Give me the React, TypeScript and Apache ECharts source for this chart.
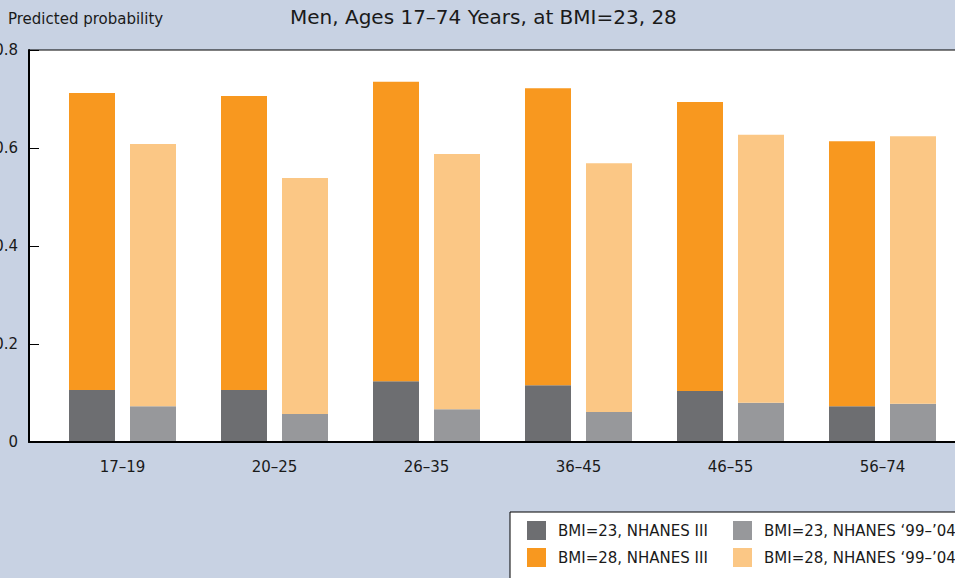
import React, { useEffect, useRef } from 'react';
import * as echarts from 'echarts';

const categories = ['17–19', '20–25', '26–35', '36–45', '46–55', '56–74'];
const bmi23NhanesIII = [0.106, 0.106, 0.124, 0.116, 0.104, 0.073];
const bmi28NhanesIII = [0.712, 0.706, 0.735, 0.722, 0.694, 0.614];
const bmi23Nhanes9904 = [0.073, 0.057, 0.067, 0.061, 0.08, 0.078];
const bmi28Nhanes9904 = [0.608, 0.539, 0.588, 0.569, 0.627, 0.624];

const NAME_23_III = 'BMI=23, NHANES III';
const NAME_28_III = 'BMI=28, NHANES III';
const NAME_23_9904 = 'BMI=23, NHANES ‘99–’04';
const NAME_28_9904 = 'BMI=28, NHANES ‘99–’04';

const FONT = 'DejaVu Sans';
const TEXT = '#1a1a1a';

const diff = (top: number[], base: number[]) =>
  top.map((v, i) => Math.round((v - base[i]) * 1000) / 1000);

export default function App() {
  const ref = useRef<HTMLDivElement>(null);
  useEffect(() => {
    if (!ref.current) return;
    const chart = echarts.init(ref.current, undefined, { renderer: 'svg' });
    const barCommon = { type: 'bar', xAxisIndex: 1, yAxisIndex: 1, barWidth: 46, barGap: '32.6%' };
    chart.setOption({
      animation: false,
      backgroundColor: '#c8d2e3',
      textStyle: { fontFamily: FONT },
      title: [
        {
          text: 'Men, Ages 17–74 Years, at BMI=23, 28',
          left: 290,
          top: 7,
          padding: 0,
          textStyle: { fontFamily: FONT, fontSize: 20, fontWeight: 'normal', color: TEXT },
        },
        {
          text: 'Predicted probability',
          left: 8,
          top: 11,
          padding: 0,
          textStyle: { fontFamily: FONT, fontSize: 15, fontWeight: 'normal', color: TEXT },
        },
      ],
      grid: [
        {
          left: 29, right: -10, top: 50, bottom: 136, outerBoundsMode: 'none', containLabel: false,
          show: true, backgroundColor: '#ffffff', borderColor: '#000', borderWidth: 1,
        },
        { left: 46.5, width: 912, top: 50, bottom: 136, outerBoundsMode: 'none', containLabel: false },
      ],
      xAxis: [
        {
          type: 'value', gridIndex: 0, min: 0, max: 1, z: 10,
          axisLine: { show: true, lineStyle: { color: '#000', width: 2 } },
          axisTick: { show: false }, axisLabel: { show: false }, splitLine: { show: false },
        },
        {
          type: 'category', gridIndex: 1, data: categories,
          axisLine: { show: false }, axisTick: { show: false }, splitLine: { show: false },
          axisLabel: { margin: 17, fontFamily: FONT, fontSize: 15, color: TEXT },
        },
      ],
      yAxis: [
        {
          type: 'value', gridIndex: 0, min: 0, max: 0.8, interval: 0.2, z: 10,
          axisLine: { show: true, lineStyle: { color: '#000', width: 2 } },
          axisTick: { show: true, inside: true, length: 10, lineStyle: { color: '#000', width: 1 } },
          splitLine: { show: false },
          axisLabel: {
            margin: 11, fontFamily: FONT, fontSize: 15, color: TEXT,
            formatter: (v: number) => (v === 0 ? '0' : v.toFixed(1)),
          },
        },
        { type: 'value', gridIndex: 1, min: 0, max: 0.8, show: false },
      ],
      legend: [
        {
          orient: 'vertical', left: 527, top: 521, padding: 0,
          itemWidth: 19, itemHeight: 19, itemGap: 8, icon: 'rect',
          data: [NAME_23_III, NAME_28_III],
          textStyle: { fontFamily: FONT, fontSize: 15, color: TEXT, padding: [0, 0, 0, 7] },
        },
        {
          orient: 'vertical', left: 733, top: 521, padding: 0,
          itemWidth: 19, itemHeight: 19, itemGap: 8, icon: 'rect',
          data: [NAME_23_9904, NAME_28_9904],
          textStyle: { fontFamily: FONT, fontSize: 15, color: TEXT, padding: [0, 0, 0, 7] },
        },
      ],
      graphic: [
        {
          type: 'rect', z: 1,
          shape: { x: 510, y: 512, width: 460, height: 80 },
          style: { fill: '#ffffff', stroke: '#000', lineWidth: 1 },
        },
      ],
      series: [
        { ...barCommon, name: NAME_23_III, stack: 'stackIII', data: bmi23NhanesIII, itemStyle: { color: '#6d6e71' } },
        { ...barCommon, name: NAME_28_III, stack: 'stackIII', data: diff(bmi28NhanesIII, bmi23NhanesIII), itemStyle: { color: '#f8981f' } },
        { ...barCommon, name: NAME_23_9904, stack: 'stack9904', data: bmi23Nhanes9904, itemStyle: { color: '#97989b' } },
        { ...barCommon, name: NAME_28_9904, stack: 'stack9904', data: diff(bmi28Nhanes9904, bmi23Nhanes9904), itemStyle: { color: '#fbc785' } },
      ],
    });
    return () => chart.dispose();
  }, []);
  return (
    <div
      ref={ref}
      style={{ position: 'fixed', left: 0, top: 0, width: 955, height: 578 }}
    />
  );
}
